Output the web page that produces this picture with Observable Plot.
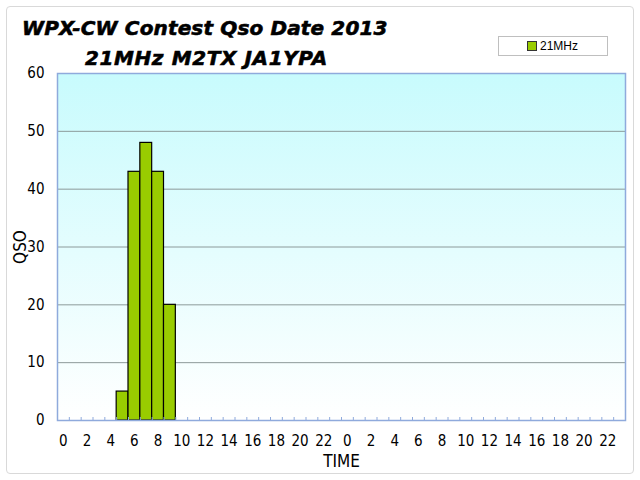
<!DOCTYPE html>
<html><head><meta charset="utf-8">
<script src="https://cdn.jsdelivr.net/npm/d3@7"></script>
<script src="https://cdn.jsdelivr.net/npm/@observablehq/plot@0.6"></script>
<style>
body{margin:0;background:#fff;}
#wrap{position:relative;width:640px;height:480px;overflow:hidden;}
#frame{position:absolute;left:6px;top:6px;width:626px;height:466px;border:1px solid #d9d9d9;border-radius:4px;}
.title{position:absolute;font-family:"DejaVu Sans",sans-serif;font-weight:bold;font-style:italic;font-size:20px;white-space:nowrap;color:#000;-webkit-text-stroke:0.6px #000;letter-spacing:0.6px;}
#legend{position:absolute;left:498px;top:36px;width:108px;height:18px;border:1px solid #bfbfbf;font-family:"Liberation Sans",sans-serif;font-size:12px;line-height:18px;color:#000;}
#legend .sw{position:absolute;left:28px;top:4px;width:8px;height:8px;background:#99cc00;border:1px solid #333;}
#legend .lt{position:absolute;left:41px;top:0;}
#plot{position:absolute;left:0;top:0;}
</style></head><body>
<div id="wrap">
<div id="frame"></div>
<div id="plot"></div>
<div class="title" style="left:22px;top:16px;letter-spacing:0.15px;">WPX-CW Contest Qso Date 2013</div>
<div class="title" style="left:85px;top:46px;">21MHz M2TX JA1YPA</div>
<div id="legend"><span class="sw"></span><span class="lt" id="legtext"></span></div>
</div>
<script>
const seriesName = "21MHz";
const hours = [5, 6, 7, 8, 9];
const qso = [5, 43, 48, 43, 20];
const timeLabels = ["0","2","4","6","8","10","12","14","16","18","20","22","0","2","4","6","8","10","12","14","16","18","20","22"];
const yTicks = [0, 10, 20, 30, 40, 50, 60];
const slotCount = 48;

document.getElementById("legtext").textContent = seriesName;
const data = hours.map((h, i) => ({h, q: qso[i]}));
const labelPos = timeLabels.map((t, i) => i * 2 + 0.5);
const boundaries = d3.range(slotCount + 1);

const grad = () => {
  const defs = d3.create("svg:defs");
  const lg = defs.append("linearGradient").attr("id", "bg").attr("x1", 0).attr("y1", 0).attr("x2", 0).attr("y2", 1);
  lg.append("stop").attr("offset", "0%").attr("stop-color", "#c8fbfd");
  lg.append("stop").attr("offset", "100%").attr("stop-color", "#ffffff");
  return defs.node();
};

const font = '"Liberation Sans Narrow","DejaVu Sans Condensed",sans-serif';
const chart = Plot.plot({
  width: 640, height: 480,
  marginTop: 73, marginLeft: 57, marginRight: 15, marginBottom: 60,
  style: {background: "transparent", fontFamily: font, fontSize: "15px", color: "#000"},
  x: {domain: [0, slotCount], axis: null},
  y: {domain: [0, 60], axis: null},
  marks: [
    grad,
    Plot.frame({fill: "url(#bg)", stroke: null}),
    Plot.gridY(yTicks.slice(1, -1), {stroke: "#8c9a9a", strokeOpacity: 1}),
    Plot.rectY(data, {x1: "h", x2: d => d.h + 1, y: "q", fill: "#99cc00", stroke: "#000", strokeWidth: 1.2}),
    Plot.axisX(boundaries, {tickSize: -3, tickFormat: () => "", stroke: "#8faadc", label: null}),
    Plot.axisX(labelPos, {tickSize: 0, tickPadding: 15, tickFormat: d => timeLabels[(d - 0.5) / 2], label: null, fontSize: 15}),
    Plot.text([{label: "TIME"}], {text: "label", frameAnchor: "bottom", dy: 46, fontSize: 17}),
    Plot.axisY(yTicks, {tickSize: 0, tickPadding: 13, label: null, fontSize: 15}),
    Plot.text([{label: "QSO"}], {text: "label", frameAnchor: "left", textAnchor: "middle", dx: -37, rotate: -90, fontSize: 17}),
    Plot.frame({stroke: "#8faadc", strokeWidth: 1.5})
  ]
});
document.getElementById("plot").appendChild(chart);
</script>
</body></html>
